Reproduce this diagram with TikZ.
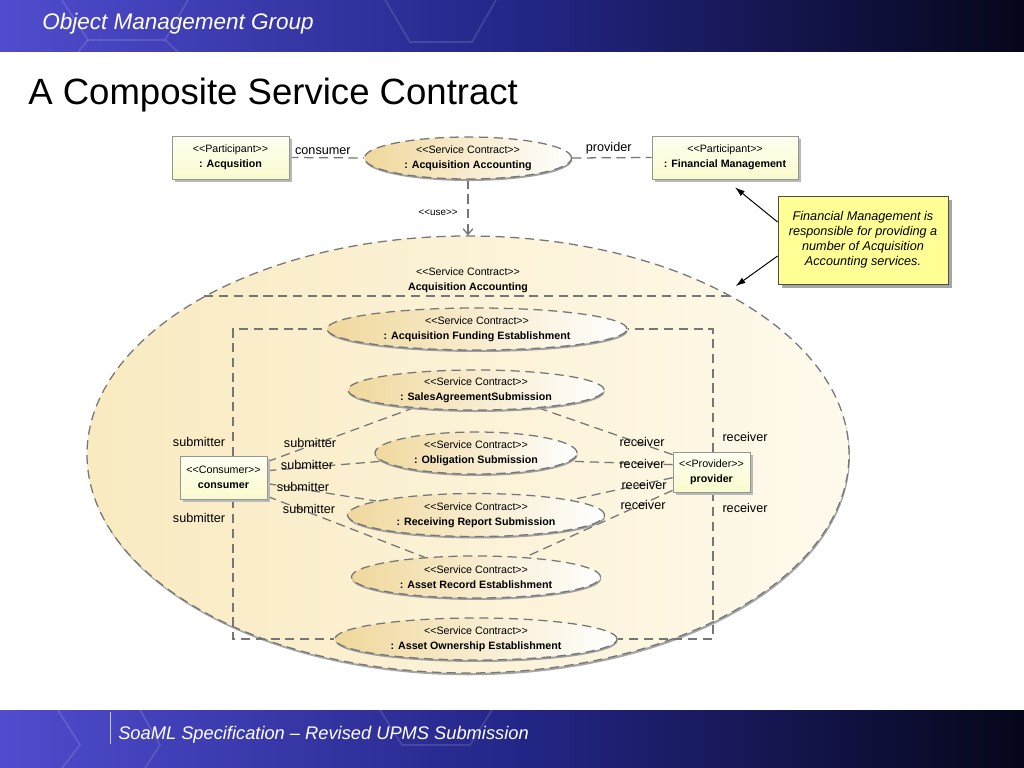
\documentclass[tikz,border=0pt]{standalone}
\usepackage{fontspec}
\setmainfont{Liberation Sans}
\usetikzlibrary{positioning,arrows.meta,shadows,shapes.geometric}

\definecolor{hdrL}{RGB}{80,76,206}
\definecolor{hdrM}{RGB}{36,38,136}
\definecolor{hdrR}{RGB}{6,6,26}
\definecolor{bigL}{RGB}{249,234,192}
\definecolor{bigR}{RGB}{254,250,236}
\definecolor{ellL}{RGB}{240,216,156}
\definecolor{boxT}{RGB}{255,255,242}
\definecolor{boxB}{RGB}{250,250,206}
\definecolor{boxD}{RGB}{150,150,150}
\definecolor{noteY}{RGB}{255,255,150}
\definecolor{dashc}{RGB}{118,118,118}

\newcommand{\pxu}{0.025cm}
\newcommand{\stereo}[1]{<\kern0pt<#1>\kern0pt>}
\newcommand{\umltext}[2]{\stereo{#1}\\\textbf{#2}}

\pgfdeclarelayer{bottom}
\pgfdeclarelayer{back}
\pgfsetlayers{bottom,back,main}

\tikzset{
  dline/.style={draw=dashc, line width=0.9pt, dash pattern=on 6.5pt off 4pt},
  sclab/.style={align=center, inner sep=0pt, font=\fontsize{7.6}{10.6}\selectfont},
  scell/.style n args={3}{ellipse, dline, left color=ellL, right color=white,
    minimum width=#1*\pxu, minimum height=#2*\pxu, inner sep=0pt,
    drop shadow={shadow xshift=0.4pt, shadow yshift=-1.4pt, fill=gray!75, opacity=1},
    label={[sclab]center:\umltext{Service Contract}{#3}}},
  partbox/.style 2 args={rectangle, draw=boxD, line width=0.5pt, top color=boxT, bottom color=boxB,
    minimum width=#1*\pxu, minimum height=#2*\pxu, inner sep=0pt, align=center,
    font=\fontsize{7.6}{10.6}\selectfont,
    drop shadow={shadow xshift=2pt, shadow yshift=-2pt, fill=gray!55, opacity=1}},
  notebox/.style={rectangle, draw=black!70, line width=0.6pt, fill=noteY,
    minimum width=170*\pxu, minimum height=88*\pxu, align=center,
    font=\fontsize{9}{10.7}\selectfont\itshape,
    drop shadow={shadow xshift=2.5pt, shadow yshift=-2.5pt, fill=gray!70, opacity=1}},
  role/.style={font=\fontsize{9}{10}\selectfont, inner sep=0pt},
  notearrow/.style={draw=black, line width=0.7pt, -{Latex[length=7pt,width=4.5pt]}},
  hexline/.style={draw=white, opacity=0.13, line width=1.2pt}
}

\begin{document}
\begin{tikzpicture}[x=0.025cm, y=-0.025cm]
  \useasboundingbox (0,0) rectangle (1024,768);

  % outer contract
  \begin{pgfonlayer}{bottom}
    \fill[white] (0,0) rectangle (1024,768);
    \node[ellipse, dline, left color=bigL, right color=bigR, minimum width=762*\pxu, minimum height=437*\pxu,
      drop shadow={shadow xshift=0.6pt, shadow yshift=-1.6pt, fill=gray!70, opacity=1}] (aa) at (468,454.5) {};
  \end{pgfonlayer}
  \node[sclab] (aaname) at (468,280) {\umltext{Service Contract}{Acquisition Accounting}};

  % header and footer bands
  \shade[left color=hdrL, right color=hdrR, middle color=hdrM] (0,0) rectangle (1024,52);
  \shade[left color=hdrL, right color=hdrR, middle color=hdrM] (0,710) rectangle (1024,768);
  \draw[hexline] (62,0) -- (88,40) -- (165,40) -- (188,0);
  \draw[hexline] (88,40) -- (78,52);
  \draw[hexline] (165,40) -- (178,52);
  \draw[hexline] (385,0) -- (410,42) -- (472,42) -- (496,0);
  \draw[hexline] (58,710) -- (80,745) -- (62,768);
  \draw[hexline] (140,710) -- (160,745) -- (145,768);
  \draw[hexline] (380,710) -- (402,745) -- (470,745) -- (492,710);
  \draw[white, opacity=0.7, line width=0.6pt] (110,712) -- (110,744);
  \node[anchor=west, inner sep=0pt, text=white, font=\fontsize{16}{18}\selectfont\itshape] (org) at (42,24) {Object Management Group};
  \node[anchor=west, inner sep=0pt, text=white, font=\fontsize{13}{15}\selectfont\itshape] (foot) at (118,735) {SoaML Specification – Revised UPMS Submission};
  \node[anchor=west, inner sep=0pt, font=\fontsize{26}{30}\selectfont] (title) at (28,95) {A Composite Service Contract};

  % top row
  \node[partbox={117}{43}] (acq) at (230.5,157.5) {\umltext{Participant}{: Acqusition}};
  \node[scell={207}{42}{: Acquisition Accounting}] (aacc) at (468,158) {};
  \node[partbox={146}{43}] (fm) at (725,157.5) {\umltext{Participant}{: Financial Management}};
  \node[notebox] (note) at (863,240) {Financial Management is\\responsible for providing a\\number of Acquisition\\Accounting services.};

  % parts
  \node[scell={300}{42}{: Acquisition Funding Establishment}] (afe) at (477,329) {};
  \node[scell={256}{40}{: SalesAgreementSubmission}] (sas) at (476,390) {};
  \node[scell={202}{42}{: Obligation Submission}] (obs) at (476,453) {};
  \node[scell={257}{43}{: Receiving Report Submission}] (rrs) at (476,515) {};
  \node[scell={249}{42}{: Asset Record Establishment}] (are) at (476,577) {};
  \node[scell={282}{42}{: Asset Ownership Establishment}] (aoe) at (476,639) {};
  \node[partbox={87}{43}] (cons) at (223.5,477.5) {\umltext{Consumer}{consumer}};
  \node[partbox={77}{40}] (prov) at (711.5,472) {\umltext{Provider}{provider}};

  \begin{pgfonlayer}{back}
    \draw[dline] (aa.149) -- (aa.31);
    \draw[dline] (acq.east) -- node[role, above=2pt, pos=0.45] (lcons) {consumer} (aacc.west);
    \draw[dline] (aacc.east) -- node[role, above=2pt, pos=0.46] (lprov) {provider} (fm.west);
    \draw[dline, -{Straight Barb[length=4pt,width=7pt]}] (aacc.south) -- node[sclab, left=7pt, pos=0.6, font=\fontsize{7}{8}\selectfont] (luse) {\stereo{use}} (aa.north);
    % consumer legs
    \draw[dline] ([shift={(9.5,0)}]cons.north) |- (afe.west);
    \draw[dline] ([shift={(9.5,0)}]cons.south) |- (aoe.west);
    \draw[dline] ([shift={(0,6)}]cons.north east) -- (sas.196);
    \draw[dline] ([shift={(0,15)}]cons.north east) -- (obs.185);
    \draw[dline] ([shift={(0,28)}]cons.north east) -- (rrs.172);
    \draw[dline] ([shift={(0,-3)}]cons.south east) -- (are.159);
    % provider legs
    \draw[dline] ([shift={(1.5,0)}]prov.north) |- (afe.east);
    \draw[dline] ([shift={(1.5,0)}]prov.south) |- (aoe.east);
    \draw[dline] ([shift={(0,3)}]prov.north west) -- (sas.344);
    \draw[dline] ([shift={(0,13)}]prov.north west) -- (obs.355);
    \draw[dline] ([shift={(0,26)}]prov.north west) -- (rrs.9);
    \draw[dline] ([shift={(0,-2)}]prov.south west) -- (are.22);
  \end{pgfonlayer}

  % role names
  \node[role] (so1) at (199,442) {submitter};
  \node[role] (so2) at (199,518) {submitter};
  \node[role] (s1) at (310,443) {submitter};
  \node[role] (s2) at (307,465) {submitter};
  \node[role] (s3) at (303,487) {submitter};
  \node[role] (s4) at (309,509) {submitter};
  \node[role] (r1) at (642,442) {receiver};
  \node[role] (r2) at (642,464) {receiver};
  \node[role] (r3) at (644,485) {receiver};
  \node[role] (r4) at (643,505) {receiver};
  \node[role] (ro1) at (745,437) {receiver};
  \node[role] (ro2) at (745,508) {receiver};

  % note links
  \draw[notearrow] ([shift={(0,-18)}]note.west) -- ([shift={(10,8)}]fm.south);
  \draw[notearrow] ([shift={(0,16)}]note.west) -- ([shift={(4,-10)}]aa.31);
\end{tikzpicture}
\end{document}
